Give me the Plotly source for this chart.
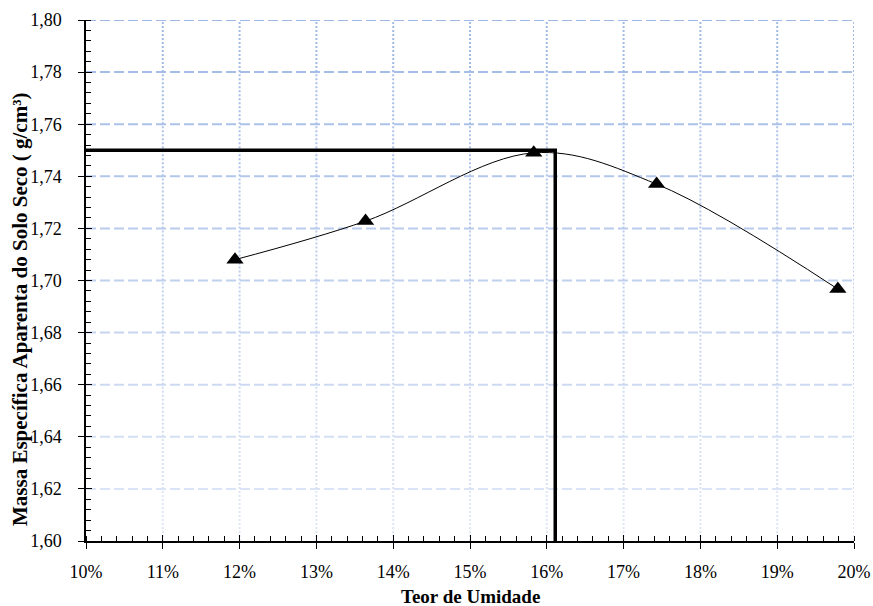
import plotly.graph_objects as go

# Data
teor = [11.94, 13.64, 15.83, 17.43, 19.79]          # % moisture
massa = [1.708, 1.7228, 1.749, 1.737, 1.6967]       # g/cm3
otimo_x = 16.11
otimo_y = 1.750

x_ticks = [10, 11, 12, 13, 14, 15, 16, 17, 18, 19, 20]
x_labels = [f"{v}%" for v in x_ticks]
y_ticks = [1.60, 1.62, 1.64, 1.66, 1.68, 1.70, 1.72, 1.74, 1.76, 1.78, 1.80]
y_labels = [f"{v:.2f}".replace(".", ",") for v in y_ticks]

XMIN, XMAX = x_ticks[0], x_ticks[-1]
YMIN, YMAX = y_ticks[0], y_ticks[-1]

FONT = "Liberation Serif"
W, H = 873, 606
ML, MR, MT, MB = 86, 19, 20, 65
PW, PH = W - ML - MR, H - MT - MB

fig = go.Figure()

def lerp(c1, c2, t):
    return "rgb(%d,%d,%d)" % tuple(round(a + (b - a) * t) for a, b in zip(c1, c2))

TOP = (158, 184, 229)
BOT = (226, 233, 248)

shapes = []
for yv in y_ticks[1:]:
    t = (YMAX - yv) / (YMAX - YMIN)
    shapes.append(dict(type="line", xref="x", yref="y", x0=XMIN, x1=XMAX, y0=yv, y1=yv,
                       line=dict(color=lerp(TOP, BOT, t), width=2, dash="10px,4px"), layer="below"))
nseg = 10
for xv in x_ticks[1:]:
    for k in range(nseg):
        y1 = YMAX - (YMAX - YMIN) * k / nseg
        y0 = YMAX - (YMAX - YMIN) * (k + 1) / nseg
        t = (k + 0.5) / nseg
        shapes.append(dict(type="line", xref="x", yref="y", x0=xv, x1=xv, y0=y0, y1=y1,
                           line=dict(color=lerp(TOP, BOT, t), width=2, dash="2px,2px"), layer="below"))

fig.add_trace(go.Scatter(x=[XMIN, otimo_x, otimo_x], y=[otimo_y, otimo_y, YMIN], mode="lines",
                         line=dict(color="black", width=3.5), hoverinfo="skip", showlegend=False))
fig.add_trace(go.Scatter(x=teor, y=massa, mode="lines", line=dict(color="black", width=1, shape="spline", smoothing=1),
                         showlegend=False))
fig.add_trace(go.Scatter(x=teor, y=massa, mode="markers",
                         marker=dict(symbol="triangle-up", size=15, color="black"), showlegend=False))
fig.add_trace(go.Scatter(x=[XMIN], y=[YMIN], xaxis="x2", yaxis="y2", mode="markers",
                         marker=dict(opacity=0), showlegend=False, hoverinfo="skip"))

tickfont = dict(family=FONT, size=18, color="black")

fig.update_layout(
    width=W, height=H,
    margin=dict(l=ML, r=MR, t=MT, b=MB, autoexpand=False),
    paper_bgcolor="white", plot_bgcolor="white",
    font=dict(family=FONT, size=18, color="black"),
    shapes=shapes,
    xaxis=dict(range=[XMIN, XMAX], tickvals=x_ticks, ticktext=x_labels, showgrid=False, zeroline=False,
               showline=True, linecolor="black", linewidth=1.5, ticks="outside", ticklen=6, tickwidth=1,
               tickcolor="black", ticklabelstandoff=8, tickfont=tickfont, automargin=False,
               minor=dict(dtick=0.2, tick0=10, ticks="inside", ticklen=5, tickcolor="black", tickwidth=1, showgrid=False),
               title=dict(text="")),
    yaxis=dict(range=[YMIN, YMAX], tickvals=y_ticks, ticktext=y_labels, showgrid=False, zeroline=False,
               showline=True, linecolor="black", linewidth=1.5, ticks="outside", ticklen=6, tickwidth=1,
               tickcolor="black", ticklabelstandoff=13, tickfont=tickfont, automargin=False,
               minor=dict(dtick=0.004, tick0=1.60, ticks="inside", ticklen=5, tickcolor="black", tickwidth=1, showgrid=False),
               title=dict(text="")),
    xaxis2=dict(range=[XMIN, XMAX], overlaying="x", tickvals=x_ticks, showticklabels=False, ticks="inside",
                ticklen=6, tickcolor="black", showgrid=False, zeroline=False, showline=False, anchor="y",
                automargin=False),
    yaxis2=dict(range=[YMIN, YMAX], overlaying="y", tickvals=y_ticks, showticklabels=False, ticks="inside",
                ticklen=6, tickcolor="black", showgrid=False, zeroline=False, showline=False, anchor="x",
                automargin=False),
    annotations=[
        dict(text="<b>Massa Específica Aparenta do Solo Seco ( g/cm³)</b>", textangle=-90,
             xref="paper", yref="paper", x=(20 - ML) / PW, y=(H - MB - 310) / PH,
             xanchor="center", yanchor="middle", showarrow=False, font=dict(size=21, family=FONT)),
        dict(text="<b>Teor de Umidade</b>",
             xref="paper", yref="paper", x=0.5, y=-(596 - (H - MB)) / PH,
             xanchor="center", yanchor="middle", showarrow=False, font=dict(size=19, family=FONT)),
    ],
)

fig.write_html("out.html", post_script="document.body.style.margin='0px';",
               config={"displayModeBar": False})
